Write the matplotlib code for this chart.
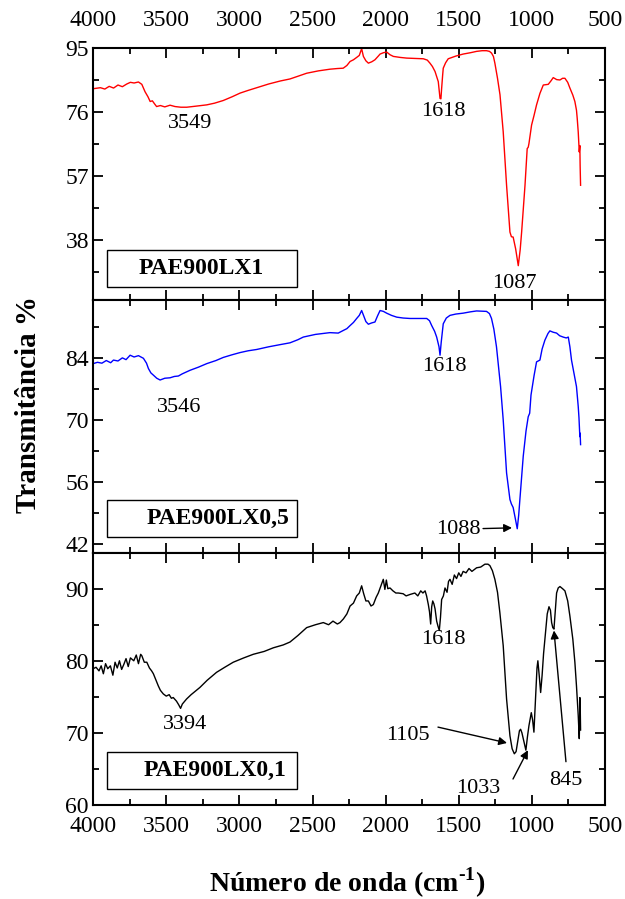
import matplotlib
matplotlib.use("Agg")
import matplotlib.pyplot as plt
from matplotlib.patches import Rectangle
from matplotlib.ticker import MultipleLocator

plt.rcParams['font.family'] = ['Liberation Serif', 'DejaVu Serif']
plt.rcParams['mathtext.fontset'] = 'custom'
plt.rcParams['mathtext.rm'] = 'Liberation Serif:bold'
plt.rcParams['mathtext.bf'] = 'Liberation Serif:bold'

# --- PAE900LX1 (red, top) ---
wn_lx1 = [4000, 3950, 3920, 3890, 3860, 3830, 3800, 3770, 3745, 3720, 3690, 3667, 3645, 3625,
          3610, 3595, 3580, 3566, 3540, 3510, 3474, 3440, 3400, 3360, 3300, 3223, 3170, 3110,
          3050, 2995, 2940, 2881, 2800, 2720, 2654, 2600, 2540, 2460, 2381, 2330, 2290, 2265,
          2243, 2220, 2198, 2180, 2164, 2152, 2135, 2118, 2095, 2073, 2050, 2038, 2015, 1993,
          1970, 1947, 1900, 1856, 1800, 1742, 1715, 1697, 1680, 1662, 1640, 1628, 1622, 1617,
          1610, 1606, 1590, 1572, 1520, 1470, 1420, 1378, 1340, 1310, 1290, 1276, 1263, 1253,
          1235, 1218, 1196, 1173, 1150, 1140, 1128, 1111, 1093, 1080, 1070, 1047, 1032, 1025,
          1020, 1002, 985, 968, 945, 922, 905, 888, 870, 854, 830, 808, 790, 774, 755, 740,
          720, 706, 695, 690, 683, 676, 672, 670, 667]
t_lx1 = [82.9, 83.2, 82.8, 83.6, 83.1, 84.0, 83.5, 84.3, 84.8, 84.6, 84.9, 84.2, 82.0, 80.5,
         79.1, 79.3, 78.4, 77.6, 77.9, 77.5, 78.0, 77.6, 77.4, 77.4, 77.7, 78.1, 78.6, 79.4,
         80.5, 81.6, 82.4, 83.2, 84.3, 85.2, 85.8, 86.6, 87.5, 88.2, 88.7, 88.9, 89.0, 89.8,
         91.0, 91.5, 92.2, 92.8, 94.8, 92.5, 91.2, 90.5, 90.9, 91.5, 92.6, 93.2, 93.6, 93.8,
         93.0, 92.5, 92.2, 92.0, 91.9, 91.8, 91.4, 90.5, 89.5, 88.0, 85.0, 80.0, 79.9, 83.0,
         87.0, 89.0, 90.6, 91.8, 92.6, 93.2, 93.6, 94.0, 94.2, 94.2, 94.0, 93.5, 92.5, 90.5,
         86.0, 81.1, 70.1, 54.2, 40.3, 38.9, 38.8, 35.3, 30.3, 35.0, 40.3, 54.2, 65.1, 65.5,
         66.6, 72.1, 75.0, 78.1, 81.5, 84.0, 84.1, 84.2, 85.2, 86.2, 85.6, 85.5, 86.0, 86.0,
         84.8, 83.1, 81.0, 79.1, 76.5, 74.1, 70.0, 64.1, 66.0, 60.0, 54.2]

# --- PAE900LX0,5 (blue, middle) ---
wn_lx05 = [4000, 3970, 3940, 3910, 3880, 3861, 3830, 3800, 3775, 3747, 3720, 3690, 3656, 3635,
           3622, 3605, 3588, 3565, 3542, 3510, 3474, 3445, 3417, 3390, 3337, 3280, 3223, 3160,
           3110, 3050, 2995, 2940, 2881, 2800, 2720, 2654, 2600, 2563, 2480, 2381, 2324, 2289,
           2265, 2243, 2220, 2198, 2180, 2164, 2150, 2135, 2118, 2095, 2073, 2055, 2038, 2015,
           1993, 1960, 1924, 1880, 1833, 1780, 1719, 1700, 1685, 1665, 1651, 1635, 1628, 1620,
           1606, 1585, 1560, 1520, 1470, 1420, 1378, 1310, 1290, 1276, 1260, 1242, 1214, 1196,
           1173, 1150, 1140, 1128, 1115, 1100, 1090, 1082, 1059, 1040, 1025, 1015, 1006, 985,
           968, 945, 930, 911, 890, 877, 855, 831, 810, 786, 765, 751, 740, 729, 712, 695,
           683, 678, 672, 670, 667]
t_lx05 = [82.7, 83.0, 82.8, 83.4, 82.9, 83.5, 83.3, 84.0, 83.6, 84.6, 84.2, 84.5, 83.9, 82.8,
          81.6, 80.6, 80.1, 79.4, 79.0, 79.4, 79.5, 79.8, 79.9, 80.4, 81.2, 81.9, 82.7, 83.4,
          84.1, 84.7, 85.2, 85.6, 85.9, 86.5, 87.0, 87.4, 88.1, 88.7, 89.3, 89.7, 89.6, 90.2,
          90.6, 91.3, 92.0, 92.9, 93.6, 94.7, 93.5, 92.2, 91.6, 91.9, 92.1, 93.5, 94.7, 94.5,
          94.1, 93.6, 93.2, 93.0, 92.9, 92.9, 92.9, 92.4, 91.3, 90.0, 88.7, 86.5, 84.6, 87.5,
          91.7, 93.0, 93.6, 93.9, 94.1, 94.4, 94.6, 94.5, 94.0, 92.9, 90.5, 86.5, 77.5, 70.0,
          58.0, 52.0, 51.0, 50.2, 48.0, 45.4, 48.5, 52.0, 61.8, 67.5, 70.7, 71.5, 75.6, 80.0,
          83.1, 83.5, 86.0, 88.0, 89.5, 90.1, 89.8, 89.6, 89.0, 88.7, 88.5, 88.7, 86.5, 83.5,
          80.5, 77.5, 73.0, 70.5, 66.2, 67.0, 64.4]

# --- PAE900LX0,1 (black, bottom) ---
wn_lx01 = [4000, 3980, 3960, 3945, 3930, 3915, 3900, 3882, 3865, 3850, 3835, 3820, 3805, 3790,
           3775, 3760, 3745, 3722, 3705, 3690, 3675, 3667, 3650, 3633, 3615, 3600, 3588, 3570,
           3554, 3540, 3520, 3500, 3480, 3465, 3452, 3430, 3415, 3402, 3390, 3361, 3330, 3300,
           3270, 3220, 3156, 3100, 3042, 2970, 2905, 2830, 2768, 2700, 2654, 2600, 2540, 2480,
           2426, 2390, 2360, 2330, 2312, 2289, 2265, 2243, 2220, 2198, 2180, 2164, 2150, 2135,
           2118, 2100, 2084, 2065, 2050, 2030, 2016, 2005, 1995, 1985, 1970, 1950, 1930, 1913,
           1880, 1860, 1833, 1800, 1780, 1760, 1745, 1730, 1720, 1708, 1700, 1692, 1685, 1678,
           1670, 1662, 1651, 1642, 1633, 1625, 1617, 1605, 1594, 1580, 1570, 1560, 1545, 1530,
           1515, 1500, 1485, 1470, 1450, 1430, 1410, 1378, 1350, 1321, 1300, 1287, 1270, 1253,
           1235, 1219, 1196, 1173, 1150, 1135, 1120, 1108, 1098, 1085, 1077, 1068, 1059, 1048,
           1041, 1030, 1020, 1004, 995, 986, 978, 972, 965, 959, 950, 940, 930, 920, 911, 895,
           883, 873, 865, 857, 849, 840, 831, 820, 808, 790, 774, 755, 740, 720, 706, 695, 683,
           676, 673, 672, 669, 667]
t_lx01 = [78.9, 79.1, 78.6, 79.3, 78.2, 79.6, 78.9, 79.3, 78.0, 79.8, 79.0, 80.0, 78.8, 79.5,
          80.3, 79.2, 80.4, 80.0, 80.8, 79.6, 80.9, 80.7, 79.8, 79.8, 79.0, 78.6, 78.2, 77.3,
          76.5, 75.9, 75.4, 75.1, 75.3, 74.8, 74.9, 74.4, 73.9, 73.4, 74.0, 74.7, 75.3, 75.8,
          76.3, 77.3, 78.4, 79.1, 79.8, 80.4, 80.9, 81.3, 81.8, 82.2, 82.6, 83.5, 84.6, 85.0,
          85.3, 85.0, 85.5, 85.1, 85.3, 85.8, 86.5, 87.6, 88.0, 89.0, 89.4, 90.4, 89.3, 88.3,
          88.3, 87.6, 87.8, 88.8, 89.4, 90.5, 91.3, 89.9, 91.2, 90.0, 90.1, 89.7, 89.4, 89.4,
          89.3, 89.0, 89.2, 89.4, 89.0, 89.7, 89.4, 89.7, 89.0, 87.8, 86.8, 85.1, 87.5, 88.3,
          87.9, 87.2, 85.5, 84.8, 84.2, 86.0, 88.5, 89.0, 90.1, 89.5, 91.0, 91.3, 90.6, 91.9,
          91.4, 92.2, 91.7, 92.4, 92.2, 92.8, 92.4, 92.9, 93.0, 93.4, 93.4, 93.2, 92.5, 91.3,
          89.5, 86.7, 82.1, 74.7, 69.6, 67.8, 67.1, 67.4, 68.7, 70.3, 70.5, 70.0, 69.2, 68.2,
          67.6, 69.5, 71.0, 72.8, 71.8, 70.1, 73.5, 76.1, 79.0, 80.0, 78.0, 75.6, 78.0, 81.0,
          83.0, 86.5, 87.5, 87.0, 85.3, 84.6, 84.4, 87.0, 89.4, 90.1, 90.3, 90.0, 89.7, 88.3,
          86.2, 83.0, 79.8, 76.5, 72.4, 69.2, 72.0, 74.9, 73.0, 70.4]

fig = plt.figure(figsize=(6.25, 8.99), dpi=100)
gs = fig.add_gridspec(3, 1, left=0.149, right=0.968, top=0.9466, bottom=0.1046, hspace=0)
axes = [fig.add_subplot(gs[i]) for i in range(3)]

panels = [
    (wn_lx1, t_lx1, 'red', (20, 95), 19, 'PAE900LX1', 0.052, 0.198, 0.212),
    (wn_lx05, t_lx05, 'blue', (40, 97), 14, 'PAE900LX0,5', 0.062, 0.209, 0.244),
    (wn_lx01, t_lx01, 'black', (60, 95), 10, 'PAE900LX0,1', 0.063, 0.210, 0.238),
]

for i, (ax, p) in enumerate(zip(axes, panels)):
    wn, tr, col, ylim, step, name, b0, b1, tx = p
    ax.plot(wn, tr, color=col, lw=1.0)
    ax.set_xlim(4000, 500)
    ax.set_ylim(*ylim)
    ax.xaxis.set_major_locator(MultipleLocator(500))
    ax.xaxis.set_minor_locator(MultipleLocator(250))
    if i == 0:
        ax.set_yticks([38, 57, 76, 95])
    elif i == 1:
        ax.set_yticks([42, 56, 70, 84])
    else:
        ax.set_yticks([60, 70, 80, 90])
    ax.yaxis.set_minor_locator(MultipleLocator(step / 2))
    ax.tick_params(which='both', direction='in', top=True, right=True, labelsize=17,
                   width=1.3, labeltop=(i == 0), labelbottom=(i == 2))
    ax.tick_params(which='major', length=7)
    ax.tick_params(which='minor', length=4)
    ax.tick_params(axis='x', which='major', pad=12 if i == 0 else 8)
    ax.tick_params(axis='y', which='major', pad=3)
    for s in ax.spines.values():
        s.set_linewidth(1.5)
    ax.add_patch(Rectangle((0.027, b0), 0.372, b1 - b0, transform=ax.transAxes,
                           fill=False, lw=1.0, ec='black'))
    ax.text(tx, (b0 + b1) / 2, name, transform=ax.transAxes, ha='center', va='center',
            fontsize=17, fontweight='bold')

ax1, ax2, ax3 = axes
fs = 16
ax1.text(3340, 72.6, '3549', ha='center', va='center', fontsize=fs)
ax1.text(1608, 76.0, '1618', ha='center', va='center', fontsize=fs)
ax1.text(1122, 25.0, '1087', ha='center', va='center', fontsize=fs)

ax2.text(3412, 72.7, '3546', ha='center', va='center', fontsize=fs)
ax2.text(1601, 82.0, '1618', ha='center', va='center', fontsize=fs)
ax2.annotate('1088', xy=(1136, 45.6), xytext=(1505, 45.3), ha='center', va='center',
             fontsize=fs, arrowprops=dict(arrowstyle='-|>', color='k', lw=1, mutation_scale=12,
                                          shrinkA=22, shrinkB=0))

ax3.text(3371, 71.1, '3394', ha='center', va='center', fontsize=fs)
ax3.text(1608, 82.9, '1618', ha='center', va='center', fontsize=fs)
ax3.text(1847, 69.6, '1105', ha='center', va='center', fontsize=fs)
ax3.annotate('', xy=(1170, 68.6), xytext=(1642, 70.8),
             arrowprops=dict(arrowstyle='-|>', color='k', lw=1, mutation_scale=12,
                             shrinkA=0, shrinkB=0))
ax3.text(1368, 62.3, '1033', ha='center', va='center', fontsize=fs)
ax3.annotate('', xy=(1027, 67.6), xytext=(1129, 63.6),
             arrowprops=dict(arrowstyle='-|>', color='k', lw=1, mutation_scale=12,
                             shrinkA=0, shrinkB=0))
ax3.text(767, 63.4, '845', ha='center', va='center', fontsize=fs)
ax3.annotate('', xy=(849, 84.2), xytext=(767, 66.0),
             arrowprops=dict(arrowstyle='-|>', color='k', lw=1, mutation_scale=12,
                             shrinkA=0, shrinkB=0))

fig.text(0.045, 0.55, 'Transmitância %', rotation=90, ha='center', va='center',
         fontsize=21, fontweight='bold')
fig.text(0.555, 0.018, r'Número de onda (cm$^{\text{-1}}$)', ha='center', va='center',
         fontsize=20, fontweight='bold')

fig.savefig('out.png', dpi=100)
